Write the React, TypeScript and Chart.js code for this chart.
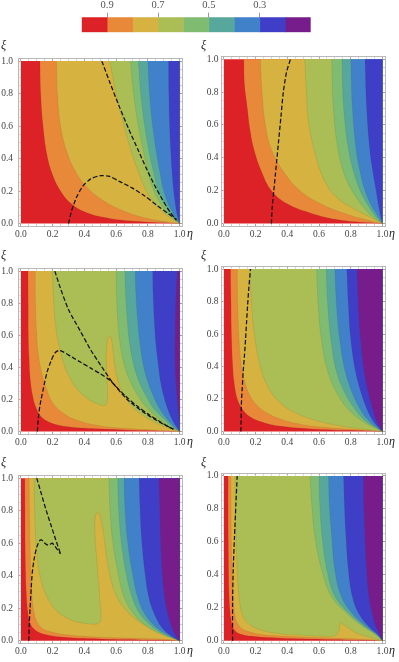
import React, { useEffect, useRef } from "react";
import { Chart, registerables } from "chart.js";

Chart.register(...registerables);

type Pt = [number, number];

// ---------- colour levels ----------
const LEVELS = [1.0, 0.9, 0.8, 0.7, 0.6, 0.5, 0.4, 0.3, 0.2, 0.1];
const LEVEL_COLORS = ["#dc2227", "#e8893a", "#d6b240", "#abbd55", "#80bb72", "#57a79d", "#4181c9", "#3e3ec6", "#771d8b"];
const COLORBAR_TICKS = [0.9, 0.7, 0.5, 0.3];
const AXIS_TICKS = [0, 0.05, 0.1, 0.15, 0.2, 0.25, 0.3, 0.35, 0.4, 0.45, 0.5, 0.55, 0.6, 0.65, 0.7, 0.75, 0.8, 0.85, 0.9, 0.95, 1.0];
const AXIS_LABELS = [0, 0.2, 0.4, 0.6, 0.8, 1.0];
const DOMAIN: Pt[] = [[0, 1], [0, 0], [1, 0], [1, 1]];

// ---------- panel A (top left): contour boundaries (xi vs eta) ----------
const A1: Pt[] = [[0.12, 1], [0.125, 0.8], [0.14, 0.6], [0.165, 0.42], [0.2, 0.3], [0.25, 0.2], [0.32, 0.12], [0.42, 0.065], [0.56, 0.032], [0.75, 0.013]];
const A2: Pt[] = [[0.224, 1], [0.23, 0.8], [0.25, 0.6], [0.29, 0.44], [0.35, 0.31], [0.43, 0.21], [0.53, 0.135], [0.64, 0.08], [0.76, 0.04], [0.88, 0.016]];
const A3: Pt[] = [[0.56, 1], [0.6, 0.8], [0.65, 0.6], [0.7, 0.43], [0.74, 0.32], [0.78, 0.22], [0.83, 0.14], [0.89, 0.075], [0.95, 0.03]];
const A4: Pt[] = [[0.69, 1], [0.71, 0.8], [0.74, 0.6], [0.775, 0.43], [0.8, 0.32], [0.83, 0.22], [0.87, 0.14], [0.915, 0.075], [0.962, 0.03]];
const A5: Pt[] = [[0.74, 1], [0.755, 0.8], [0.78, 0.6], [0.81, 0.43], [0.835, 0.32], [0.86, 0.22], [0.895, 0.14], [0.935, 0.075], [0.97, 0.03]];
const A6: Pt[] = [[0.8, 1], [0.81, 0.8], [0.83, 0.6], [0.855, 0.43], [0.875, 0.32], [0.895, 0.22], [0.92, 0.14], [0.952, 0.075], [0.978, 0.03]];
const A7: Pt[] = [[0.93, 1], [0.932, 0.8], [0.937, 0.6], [0.945, 0.43], [0.952, 0.32], [0.96, 0.22], [0.97, 0.14], [0.98, 0.075], [0.99, 0.03]];
const A_DASH1: Pt[] = [[0.51, 1.0], [0.56, 0.87], [0.62, 0.72], [0.68, 0.58], [0.74, 0.45], [0.79, 0.34], [0.84, 0.24], [0.89, 0.15], [0.94, 0.07], [0.98, 0.02]];
const A_DASH2: Pt[] = [[0.3, 0], [0.32, 0.08], [0.35, 0.16], [0.39, 0.23], [0.44, 0.275], [0.5, 0.295], [0.56, 0.29], [0.62, 0.26], [0.7, 0.22], [0.78, 0.17], [0.86, 0.11], [0.93, 0.06], [0.98, 0.025]];

// ---------- panel B (top right) ----------
const B1: Pt[] = [[0.126, 1], [0.13, 0.85], [0.147, 0.71], [0.165, 0.57], [0.19, 0.45], [0.24, 0.31], [0.3, 0.2], [0.4, 0.12], [0.55, 0.063], [0.73, 0.022]];
const B2: Pt[] = [[0.23, 1], [0.24, 0.81], [0.26, 0.61], [0.3, 0.45], [0.38, 0.31], [0.48, 0.2], [0.61, 0.12], [0.755, 0.063], [0.9, 0.022]];
const B3: Pt[] = [[0.51, 1], [0.52, 0.81], [0.535, 0.61], [0.58, 0.41], [0.63, 0.27], [0.71, 0.16], [0.82, 0.09], [0.92, 0.04]];
const B4: Pt[] = [[0.68, 1], [0.69, 0.71], [0.72, 0.45], [0.765, 0.285], [0.82, 0.18], [0.88, 0.1], [0.94, 0.04]];
const B5: Pt[] = [[0.744, 1], [0.755, 0.71], [0.786, 0.45], [0.82, 0.31], [0.86, 0.2], [0.91, 0.11], [0.96, 0.04]];
const B6: Pt[] = [[0.8, 1], [0.81, 0.71], [0.834, 0.45], [0.86, 0.31], [0.89, 0.2], [0.93, 0.11], [0.975, 0.04]];
const B7: Pt[] = [[0.89, 1], [0.9, 0.71], [0.92, 0.45], [0.94, 0.31], [0.96, 0.2], [0.975, 0.11], [0.99, 0.04]];
const B_DASH: Pt[] = [[0.3, 0], [0.305, 0.1], [0.315, 0.2], [0.325, 0.3], [0.335, 0.4], [0.345, 0.5], [0.36, 0.65], [0.375, 0.8], [0.395, 0.92], [0.42, 1.0]];

// ---------- panel C (middle left) ----------
const C1: Pt[] = [[0.045, 1], [0.046, 0.8], [0.047, 0.6], [0.052, 0.45], [0.06, 0.32], [0.075, 0.22], [0.095, 0.15], [0.13, 0.09], [0.2, 0.05], [0.3, 0.03], [0.45, 0.018], [0.7, 0.008]];
const C2: Pt[] = [[0.09, 1], [0.092, 0.8], [0.1, 0.6], [0.11, 0.48], [0.13, 0.37], [0.16, 0.27], [0.2, 0.18], [0.26, 0.12], [0.34, 0.075], [0.5, 0.035], [0.7, 0.017], [0.88, 0.007]];
const C3: Pt[] = [[0.2, 1], [0.205, 0.85], [0.215, 0.7], [0.235, 0.56], [0.265, 0.44], [0.3, 0.35], [0.35, 0.27], [0.42, 0.205], [0.49, 0.17], [0.53, 0.162], [0.545, 0.2], [0.545, 0.28], [0.54, 0.38], [0.538, 0.47], [0.543, 0.55], [0.555, 0.595], [0.567, 0.585], [0.577, 0.53], [0.588, 0.44], [0.603, 0.35], [0.627, 0.27], [0.665, 0.2], [0.715, 0.14], [0.785, 0.09], [0.86, 0.05], [0.93, 0.022]];
const C4: Pt[] = [[0.6, 1], [0.603, 0.85], [0.61, 0.7], [0.625, 0.55], [0.65, 0.42], [0.69, 0.31], [0.74, 0.22], [0.8, 0.14], [0.87, 0.08], [0.94, 0.03]];
const C5: Pt[] = [[0.655, 1], [0.66, 0.85], [0.67, 0.7], [0.685, 0.55], [0.71, 0.42], [0.745, 0.31], [0.79, 0.22], [0.84, 0.14], [0.9, 0.08], [0.955, 0.03]];
const C6: Pt[] = [[0.72, 1], [0.725, 0.85], [0.735, 0.7], [0.75, 0.55], [0.77, 0.42], [0.8, 0.31], [0.835, 0.22], [0.875, 0.14], [0.92, 0.08], [0.965, 0.03]];
const C7: Pt[] = [[0.83, 1], [0.833, 0.85], [0.84, 0.7], [0.85, 0.55], [0.865, 0.42], [0.88, 0.31], [0.9, 0.22], [0.925, 0.14], [0.95, 0.08], [0.98, 0.03]];
const C8: Pt[] = [[0.985, 1], [0.978, 0.85], [0.973, 0.65], [0.972, 0.45], [0.977, 0.3], [0.987, 0.18], [0.995, 0.1]];
const C_DASH1: Pt[] = [[0.214, 1], [0.247, 0.9], [0.3, 0.76], [0.375, 0.625], [0.442, 0.505], [0.505, 0.41], [0.578, 0.305], [0.67, 0.2], [0.775, 0.118], [0.88, 0.055], [0.96, 0.015]];
const C_DASH2: Pt[] = [[0.104, 0], [0.11, 0.08], [0.12, 0.16], [0.14, 0.26], [0.165, 0.37], [0.19, 0.44], [0.215, 0.49], [0.24, 0.505], [0.27, 0.495], [0.32, 0.465], [0.38, 0.43], [0.44, 0.395], [0.5, 0.36], [0.56, 0.32], [0.6, 0.28], [0.66, 0.22], [0.73, 0.16], [0.8, 0.11], [0.87, 0.065], [0.93, 0.03], [0.965, 0.012]];

// ---------- panel D (middle right) ----------
const D1: Pt[] = [[0.042, 1], [0.045, 0.8], [0.048, 0.6], [0.055, 0.42], [0.065, 0.3], [0.085, 0.2], [0.115, 0.14], [0.165, 0.09], [0.25, 0.055], [0.35, 0.033], [0.55, 0.016], [0.78, 0.007]];
const D2: Pt[] = [[0.084, 1], [0.087, 0.8], [0.094, 0.6], [0.108, 0.42], [0.13, 0.31], [0.165, 0.22], [0.21, 0.16], [0.27, 0.115], [0.36, 0.075], [0.48, 0.045], [0.65, 0.024], [0.85, 0.01]];
const D3: Pt[] = [[0.164, 1], [0.175, 0.78], [0.196, 0.57], [0.238, 0.37], [0.27, 0.29], [0.31, 0.224], [0.37, 0.165], [0.44, 0.12], [0.54, 0.08], [0.65, 0.05], [0.76, 0.03], [0.87, 0.015]];
const D4: Pt[] = [[0.585, 1], [0.595, 0.78], [0.615, 0.57], [0.655, 0.37], [0.72, 0.224], [0.8, 0.12], [0.88, 0.06], [0.955, 0.02]];
const D5: Pt[] = [[0.645, 1], [0.655, 0.78], [0.675, 0.57], [0.71, 0.37], [0.77, 0.224], [0.84, 0.12], [0.9, 0.06], [0.965, 0.02]];
const D6: Pt[] = [[0.7, 1], [0.71, 0.78], [0.73, 0.57], [0.765, 0.37], [0.815, 0.224], [0.87, 0.12], [0.92, 0.06], [0.972, 0.02]];
const D7: Pt[] = [[0.775, 1], [0.785, 0.78], [0.8, 0.57], [0.83, 0.37], [0.87, 0.224], [0.91, 0.12], [0.945, 0.06], [0.98, 0.02]];
const D8: Pt[] = [[0.84, 1], [0.848, 0.78], [0.862, 0.57], [0.885, 0.37], [0.915, 0.224], [0.945, 0.12], [0.965, 0.06], [0.988, 0.02]];
const D_DASH: Pt[] = [[0.107, 0], [0.109, 0.08], [0.11, 0.16], [0.116, 0.27], [0.122, 0.37], [0.13, 0.47], [0.137, 0.57], [0.143, 0.67], [0.15, 0.78], [0.158, 0.89], [0.168, 1]];

// ---------- panel E (bottom left) ----------
const E1: Pt[] = [[0.025, 1], [0.026, 0.8], [0.027, 0.6], [0.03, 0.42], [0.034, 0.3], [0.042, 0.19], [0.055, 0.12], [0.08, 0.075], [0.14, 0.042], [0.3, 0.02], [0.55, 0.01], [0.8, 0.005]];
const E2: Pt[] = [[0.052, 1], [0.054, 0.8], [0.057, 0.6], [0.062, 0.43], [0.068, 0.3], [0.078, 0.2], [0.095, 0.13], [0.125, 0.085], [0.17, 0.06], [0.3, 0.035], [0.5, 0.022], [0.75, 0.014], [0.92, 0.008]];
const E3: Pt[] = [[0.084, 1], [0.086, 0.85], [0.09, 0.7], [0.1, 0.55], [0.115, 0.43], [0.14, 0.33], [0.175, 0.25], [0.23, 0.18], [0.3, 0.135], [0.37, 0.113], [0.44, 0.103], [0.49, 0.107], [0.505, 0.14], [0.5, 0.22], [0.49, 0.35], [0.48, 0.48], [0.47, 0.6], [0.466, 0.7], [0.47, 0.77], [0.481, 0.79], [0.495, 0.775], [0.51, 0.72], [0.525, 0.63], [0.54, 0.52], [0.555, 0.43], [0.58, 0.33], [0.61, 0.26], [0.66, 0.19], [0.72, 0.135], [0.79, 0.09], [0.87, 0.05], [0.94, 0.024]];
const E4: Pt[] = [[0.555, 1], [0.56, 0.83], [0.576, 0.63], [0.61, 0.43], [0.65, 0.27], [0.71, 0.166], [0.8, 0.085], [0.9, 0.034], [0.97, 0.012]];
const E5: Pt[] = [[0.61, 1], [0.615, 0.83], [0.63, 0.63], [0.66, 0.43], [0.7, 0.27], [0.75, 0.166], [0.83, 0.085], [0.915, 0.034], [0.975, 0.01]];
const E6: Pt[] = [[0.65, 1], [0.655, 0.83], [0.67, 0.63], [0.7, 0.43], [0.735, 0.27], [0.78, 0.166], [0.85, 0.085], [0.93, 0.034], [0.978, 0.01]];
const E7: Pt[] = [[0.745, 1], [0.75, 0.83], [0.76, 0.63], [0.78, 0.43], [0.805, 0.27], [0.84, 0.166], [0.885, 0.085], [0.94, 0.034], [0.98, 0.01]];
const E8: Pt[] = [[0.87, 1], [0.875, 0.83], [0.88, 0.63], [0.89, 0.43], [0.905, 0.27], [0.925, 0.166], [0.95, 0.085], [0.975, 0.034], [0.99, 0.01]];
const E_DASH1: Pt[] = [[0.1, 1], [0.13, 0.9], [0.16, 0.8], [0.19, 0.71], [0.22, 0.62], [0.25, 0.534]];
const E_DASH2: Pt[] = [[0.05, 0], [0.053, 0.1], [0.058, 0.2], [0.065, 0.32], [0.072, 0.42], [0.085, 0.51], [0.1, 0.575], [0.118, 0.615], [0.13, 0.62], [0.145, 0.605], [0.165, 0.59], [0.18, 0.59], [0.197, 0.6], [0.215, 0.58], [0.25, 0.534]];

// ---------- panel F (bottom right) ----------
const F1: Pt[] = [[0.027, 1], [0.027, 0.8], [0.028, 0.6], [0.03, 0.42], [0.032, 0.3], [0.037, 0.2], [0.045, 0.13], [0.06, 0.075], [0.1, 0.042], [0.2, 0.025], [0.4, 0.014], [0.65, 0.008], [0.85, 0.004]];
const F2: Pt[] = [[0.044, 1], [0.045, 0.8], [0.047, 0.6], [0.051, 0.43], [0.056, 0.3], [0.063, 0.2], [0.075, 0.13], [0.1, 0.085], [0.14, 0.06], [0.25, 0.036], [0.45, 0.024], [0.7, 0.015], [0.9, 0.008]];
const F3: Pt[] = [[0.07, 1], [0.073, 0.8], [0.078, 0.6], [0.085, 0.43], [0.093, 0.3], [0.105, 0.2], [0.125, 0.14], [0.16, 0.1], [0.22, 0.07], [0.33, 0.045], [0.48, 0.034], [0.62, 0.028], [0.7, 0.03], [0.725, 0.06], [0.735, 0.11], [0.75, 0.1], [0.79, 0.075], [0.83, 0.05], [0.87, 0.035], [0.93, 0.018]];
const F4: Pt[] = [[0.543, 1], [0.554, 0.83], [0.575, 0.63], [0.617, 0.43], [0.68, 0.267], [0.775, 0.166], [0.88, 0.085], [0.964, 0.034]];
const F5: Pt[] = [[0.6, 1], [0.605, 0.83], [0.62, 0.63], [0.65, 0.43], [0.7, 0.27], [0.79, 0.166], [0.89, 0.085], [0.965, 0.034]];
const F6: Pt[] = [[0.66, 1], [0.665, 0.83], [0.68, 0.63], [0.7, 0.43], [0.74, 0.27], [0.81, 0.166], [0.9, 0.085], [0.97, 0.034]];
const F7: Pt[] = [[0.755, 1], [0.76, 0.83], [0.77, 0.63], [0.785, 0.43], [0.81, 0.27], [0.85, 0.166], [0.915, 0.085], [0.975, 0.034]];
const F8: Pt[] = [[0.88, 1], [0.883, 0.83], [0.89, 0.63], [0.9, 0.43], [0.915, 0.27], [0.935, 0.166], [0.96, 0.085], [0.985, 0.034]];
const F_DASH: Pt[] = [[0.055, 0], [0.055, 0.227], [0.059, 0.43], [0.067, 0.63], [0.076, 0.83], [0.084, 1]];

type PanelSpec = { bounds: (Pt[] | null)[]; dashed: Pt[][]; col: number; row: number };

const PANELS: PanelSpec[] = [
  { bounds: [A1, A2, A3, A4, A5, A6, A7, null], dashed: [A_DASH1, A_DASH2], col: 0, row: 0 },
  { bounds: [B1, B2, B3, B4, B5, B6, B7, null], dashed: [B_DASH], col: 1, row: 0 },
  { bounds: [C1, C2, C3, C4, C5, C6, C7, C8], dashed: [C_DASH1, C_DASH2], col: 0, row: 1 },
  { bounds: [D1, D2, D3, D4, D5, D6, D7, D8], dashed: [D_DASH], col: 1, row: 1 },
  { bounds: [E1, E2, E3, E4, E5, E6, E7, E8], dashed: [E_DASH1, E_DASH2], col: 0, row: 2 },
  { bounds: [F1, F2, F3, F4, F5, F6, F7, F8], dashed: [F_DASH], col: 1, row: 2 },
];

// ---------- layout (pixels) ----------
const PAD = 0.018;
const TICK_LEN = -2.5; // inward ticks
const COLS = [
  { cl: 0, cw: 200, frameL: 18, frameR: 182.5, labelPad: 5, xiLeft: 1, etaLeft: 187 },
  { cl: 200, cw: 199, frameL: 221, frameR: 385.3, labelPad: 2.5, xiLeft: 201, etaLeft: 389 },
];
const ROWS = [
  { ct: 45, ch: 200, frameT: 56.2, frameB: 226.5 },
  { ct: 255, ch: 200, frameT: 266.1, frameB: 434.4 },
  { ct: 462, ch: 200, frameT: 473, frameB: 643.7 },
];
const CB = { left: 81.7, right: 310.7, top: 17.3, bottom: 32.3 };
const SERIF = '"Liberation Serif", "Times New Roman", serif';
const FRAME_COLOR = "#b9b9b9";

const toXY = (pts: Pt[]) => pts.map(([x, y]) => ({ x, y }));
const isMajor = (v: number) => AXIS_LABELS.some((m) => Math.abs(m - v) < 1e-6);

function ColorBar() {
  const ref = useRef<HTMLCanvasElement>(null);
  useEffect(() => {
    const chart = new Chart(ref.current!, {
      type: "bar",
      data: {
        labels: [""],
        datasets: LEVEL_COLORS.map((c, i) => ({
          data: [[LEVELS[i], LEVELS[i + 1]]] as any,
          backgroundColor: c,
          borderWidth: 0,
          barPercentage: 1,
          categoryPercentage: 1,
          grouped: false,
        })),
      },
      options: {
        indexAxis: "y",
        responsive: false,
        animation: false,
        events: [],
        layout: { padding: { left: CB.left, right: 399 - CB.right, top: 0, bottom: 40 - CB.bottom } },
        plugins: { legend: { display: false }, tooltip: { enabled: false } },
        scales: {
          x: {
            type: "linear",
            position: "top",
            reverse: true,
            min: LEVELS[LEVELS.length - 1],
            max: LEVELS[0],
            afterBuildTicks: (s: any) => {
              s.ticks = COLORBAR_TICKS.map((v) => ({ value: v }));
            },
            afterFit: (s: any) => {
              s.height = CB.top;
            },
            ticks: {
              font: { family: SERIF, size: 10.5 },
              color: "#555",
              padding: 1.4,
              maxRotation: 0,
              autoSkip: false,
              callback: (v: any) => Number(v).toFixed(1),
            },
            grid: { display: true, drawOnChartArea: false, drawTicks: true, tickLength: 4.6, color: "#999", lineWidth: 1 },
            border: { display: false },
          },
          y: { display: false },
        },
      } as any,
    });
    return () => chart.destroy();
  }, []);
  return <canvas ref={ref} width={399} height={40} style={{ position: "absolute", left: 0, top: 0, display: "block" }} />;
}

function frameGrid() {
  return {
    display: true,
    drawOnChartArea: false,
    drawTicks: true,
    tickLength: TICK_LEN,
    tickColor: (ctx: any) => (ctx.tick && isMajor(ctx.tick.value) ? "#8a8a8a" : "#c4c4c4"),
    tickWidth: 0.8,
  };
}

function ContourPanel({ spec }: { spec: PanelSpec }) {
  const ref = useRef<HTMLCanvasElement>(null);
  const col = COLS[spec.col];
  const row = ROWS[spec.row];
  useEffect(() => {
    const datasets: any[] = [];
    spec.dashed.forEach((d) =>
      datasets.push({
        data: toXY(d),
        borderColor: "#121212",
        borderWidth: 1.25,
        borderDash: [4.5, 2.2],
        fill: false,
        tension: 0.25,
        pointRadius: 0,
        xAxisID: "x",
        yAxisID: "y",
      })
    );
    for (let k = spec.bounds.length - 1; k >= 0; k--) {
      const b = spec.bounds[k];
      if (!b) continue;
      const pts: Pt[] = [...b, [1, 0], [1, 0], [1, 1]];
      datasets.push({
        data: toXY(pts),
        backgroundColor: LEVEL_COLORS[k + 1],
        borderColor: "rgba(70,70,40,0.18)",
        borderWidth: 0.6,
        fill: "shape",
        tension: 0.4,
        pointRadius: 0,
        xAxisID: "x",
        yAxisID: "y",
      });
    }
    datasets.push({
      data: toXY(DOMAIN),
      backgroundColor: LEVEL_COLORS[0],
      borderWidth: 0,
      fill: "shape",
      tension: 0,
      pointRadius: 0,
      xAxisID: "x",
      yAxisID: "y",
    });

    const tickFont = { family: SERIF, size: 9.5 };
    const xh = row.ct + row.ch - row.frameB;
    const yw = col.frameL - col.cl;
    const setTicks = (s: any) => {
      s.ticks = AXIS_TICKS.map((v) => ({ value: v }));
    };
    const label = (v: any) => (isMajor(Number(v)) ? Number(v).toFixed(1) : "");
    const chart = new Chart(ref.current!, {
      type: "line",
      data: { datasets },
      options: {
        responsive: false,
        animation: false,
        events: [],
        layout: { padding: { top: row.frameT - row.ct, right: col.cl + col.cw - col.frameR, left: 0, bottom: 0 } },
        plugins: { legend: { display: false }, tooltip: { enabled: false } },
        scales: {
          x: {
            type: "linear",
            position: "bottom",
            min: -PAD,
            max: 1 + PAD,
            afterBuildTicks: setTicks,
            afterFit: (s: any) => {
              s.height = xh;
            },
            ticks: { font: tickFont, color: "#444", padding: 2 - TICK_LEN, maxRotation: 0, autoSkip: false, callback: label },
            grid: frameGrid(),
            border: { display: true, color: FRAME_COLOR, width: 1 },
          },
          y: {
            type: "linear",
            position: "left",
            min: -PAD,
            max: 1 + PAD,
            afterBuildTicks: setTicks,
            afterFit: (s: any) => {
              s.width = yw;
            },
            ticks: { font: tickFont, color: "#444", padding: col.labelPad - TICK_LEN, autoSkip: false, callback: label },
            grid: frameGrid(),
            border: { display: true, color: FRAME_COLOR, width: 1 },
          },
          x2: {
            type: "linear",
            position: "top",
            min: -PAD,
            max: 1 + PAD,
            afterBuildTicks: setTicks,
            ticks: { display: false },
            grid: frameGrid(),
            border: { display: true, color: FRAME_COLOR, width: 1 },
            afterFit: (s: any) => {
              s.height = 0;
            },
          },
          y2: {
            type: "linear",
            position: "right",
            min: -PAD,
            max: 1 + PAD,
            afterBuildTicks: setTicks,
            ticks: { display: false },
            grid: frameGrid(),
            border: { display: true, color: FRAME_COLOR, width: 1 },
            afterFit: (s: any) => {
              s.width = 0;
            },
          },
        },
      } as any,
    });
    return () => chart.destroy();
  }, []);
  return (
    <canvas
      ref={ref}
      width={col.cw}
      height={row.ch}
      style={{ position: "absolute", left: col.cl, top: row.ct, display: "block" }}
    />
  );
}

const labelStyle: React.CSSProperties = {
  position: "absolute",
  fontFamily: SERIF,
  fontStyle: "italic",
  fontSize: 12,
  lineHeight: "12px",
  color: "#222",
  whiteSpace: "nowrap",
};

export default function App() {
  return (
    <div style={{ position: "absolute", left: 0, top: 0, width: 399, height: 662, background: "#fff", overflow: "hidden" }}>
      <ColorBar />
      {PANELS.map((p, i) => (
        <ContourPanel key={i} spec={p} />
      ))}
      {PANELS.map((p, i) => (
        <React.Fragment key={"l" + i}>
          <span style={{ ...labelStyle, left: COLS[p.col].xiLeft, top: ROWS[p.row].frameT - 16.8 }}>ξ</span>
          <span style={{ ...labelStyle, left: COLS[p.col].etaLeft, top: ROWS[p.row].frameB + 0.2 }}>η</span>
        </React.Fragment>
      ))}
    </div>
  );
}
